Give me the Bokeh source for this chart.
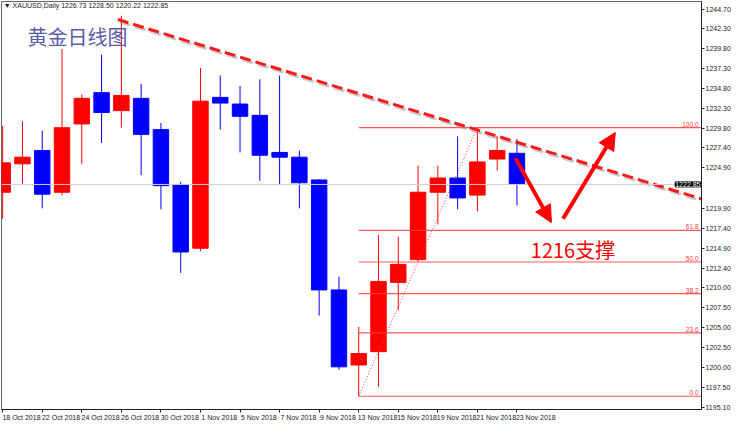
from bokeh.plotting import figure
from bokeh.models import (Range1d, FixedTicker, NumeralTickFormatter, Span, Label,
                          Arrow, NormalHead, ColumnDataSource)
from bokeh.core.properties import value
from bokeh.embed import file_html
from bokeh.resources import INLINE

# ---------------- data ----------------
symbol = "XAUUSD,Daily"
dates = ["18 Oct 2018", "19 Oct 2018", "22 Oct 2018", "23 Oct 2018", "24 Oct 2018",
         "25 Oct 2018", "26 Oct 2018", "29 Oct 2018", "30 Oct 2018", "31 Oct 2018",
         "1 Nov 2018", "2 Nov 2018", "5 Nov 2018", "6 Nov 2018", "7 Nov 2018",
         "8 Nov 2018", "9 Nov 2018", "12 Nov 2018", "13 Nov 2018", "14 Nov 2018",
         "15 Nov 2018", "16 Nov 2018", "19 Nov 2018", "20 Nov 2018", "21 Nov 2018",
         "22 Nov 2018", "23 Nov 2018"]
opens = [1221.88, 1225.42, 1227.08, 1221.88, 1230.39, 1234.29, 1232.05, 1233.58, 1229.68,
         1222.82, 1214.90, 1233.70, 1232.87, 1231.46, 1226.84, 1226.25, 1223.41, 1209.70,
         1200.35, 1202.01, 1210.64, 1213.48, 1221.88, 1223.65, 1221.52, 1226.02, 1226.73]
highs = [1230.15, 1230.75, 1229.56, 1239.73, 1234.06, 1239.02, 1243.87, 1235.36, 1230.51,
         1223.18, 1237.37, 1236.42, 1235.12, 1235.95, 1236.42, 1227.08, 1223.53, 1211.35,
         1205.08, 1216.55, 1216.32, 1225.19, 1225.19, 1228.85, 1229.92, 1228.85, 1228.50]
lows = [1218.57, 1222.94, 1219.87, 1221.52, 1225.42, 1228.03, 1229.92, 1224.01, 1219.75,
        1211.82, 1214.54, 1229.68, 1226.84, 1223.30, 1222.82, 1219.87, 1206.50, 1199.76,
        1196.45, 1197.63, 1207.21, 1213.24, 1217.86, 1219.75, 1219.51, 1224.60, 1220.22]
closes = [1225.54, 1226.25, 1221.64, 1229.92, 1233.58, 1231.81, 1233.94, 1229.09, 1222.70,
          1214.43, 1233.23, 1232.99, 1231.34, 1226.49, 1226.25, 1223.06, 1209.70, 1200.12,
          1201.77, 1210.76, 1212.89, 1221.88, 1223.65, 1221.17, 1225.66, 1227.08, 1222.85]
price_ticks = [1244.70, 1242.30, 1239.80, 1237.30, 1234.80, 1232.30, 1229.80, 1227.40,
               1224.90, 1219.90, 1217.40, 1214.90, 1212.40, 1210.00, 1207.50, 1205.00,
               1202.50, 1200.00, 1197.50, 1195.10]
fib_levels = [0.0, 23.6, 38.2, 50.0, 61.8, 100.0]
fib_from_bar = 18
fib_to_bar = 24
title_text = "黄金日线图"
support_text = "1216支撑"

# trendline / arrows anchors (bar index, price)
trend_start = (5.82, 1243.40)
trend_end = (36.5, 1220.16)
arrow_down = ((25.92, 1226.13), (27.74, 1218.09))
arrow_up = ((28.33, 1218.57), (30.97, 1229.32))

# ---------------- figure ----------------
X0, X1 = -0.06, 35.33
Y0, Y1 = 1194.8, 1245.65
p = figure(width=733, height=423, output_backend="svg", toolbar_location=None,
           x_range=Range1d(X0, X1), y_range=Range1d(Y0, Y1),
           y_axis_location="right", min_border_left=1, min_border_top=1,
           min_border_right=0, min_border_bottom=0)
p.grid.visible = False
p.outline_line_color = "#666666"
p.background_fill_color = "white"
p.border_fill_color = "white"

# axes
p.yaxis.ticker = FixedTicker(ticks=price_ticks)
p.yaxis.formatter = NumeralTickFormatter(format="0.00")
label_shift = 0.95  # date label drawn to the right of its tick, as in MT4
date_idx = list(range(0, len(dates), 2))
p.xaxis.ticker = FixedTicker(ticks=[i + label_shift for i in date_idx], minor_ticks=date_idx)
p.xaxis.major_label_overrides = {i + label_shift: dates[i] for i in date_idx}
for ax in (p.xaxis, p.yaxis):
    ax.major_label_text_font = "Liberation Sans"
    ax.major_label_text_font_size = "7px"
    ax.major_label_text_color = "#222222"
    ax.axis_line_color = "#222222"
    ax.major_tick_line_color = "#222222"
    ax.major_tick_out = 3
    ax.major_tick_in = 0
    ax.minor_tick_line_color = None
    ax.major_label_standoff = 1
p.xaxis.major_tick_line_color = None
p.xaxis.minor_tick_line_color = "#222222"
p.xaxis.minor_tick_out = 3
p.xaxis.minor_tick_in = 0

# current price line
p.add_layout(Span(location=closes[-1], dimension="width", line_color="#cfcfcf", line_width=1))

# candles
colors = ["#ff0000" if c >= o else "#0000ff" for o, c in zip(opens, closes)]
idx = list(range(len(dates)))
src = ColumnDataSource(dict(x=idx, o=opens, h=highs, l=lows, c=closes,
                            top=[max(o, c) for o, c in zip(opens, closes)],
                            bot=[min(o, c) for o, c in zip(opens, closes)],
                            col=colors))
p.segment(x0="x", y0="l", x1="x", y1="h", source=src, line_color="col", line_width=1)
p.vbar(x="x", width=0.78, top="top", bottom="bot", source=src,
       fill_color="col", line_color="col", line_width=1)

# Fibonacci retracement
fib_lo = lows[fib_from_bar]
fib_hi = highs[fib_to_bar]
fib_prices = [fib_lo + (fib_hi - fib_lo) * lv / 100.0 for lv in fib_levels]
p.segment(x0=[fib_from_bar] * len(fib_prices), y0=fib_prices,
          x1=[X1 + 1] * len(fib_prices), y1=fib_prices,
          line_color="#ff3b3b", line_width=1.2, line_alpha=0.85)
p.line([fib_from_bar, fib_to_bar], [fib_lo, fib_hi], line_color="#ff3b3b",
       line_width=1, line_dash="1 2")
p.text(x=[X1] * len(fib_prices), y=fib_prices, text=[f"{lv:.1f}" for lv in fib_levels],
       x_offset=-3, y_offset=-1, text_align="right", text_baseline="bottom",
       text_font=value("Liberation Sans"), text_font_size="6.5px", text_color="#ff3b3b")

# trendline with shadow
p.line([trend_start[0] + 0.1, trend_end[0] + 0.1], [trend_start[1] - 0.3, trend_end[1] - 0.3],
       line_color="#888888", line_alpha=0.45, line_width=3, line_dash="11 5")
p.line([trend_start[0], trend_end[0]], [trend_start[1], trend_end[1]],
       line_color="#ff1a1a", line_width=3, line_dash="11 5")

# arrows
for (s, e) in (arrow_down, arrow_up):
    p.add_layout(Arrow(end=NormalHead(size=17, fill_color="#ff0000", line_color="#ff0000"),
                       x_start=s[0], y_start=s[1], x_end=e[0], y_end=e[1],
                       line_color="#ff0000", line_width=4))

# texts
p.add_layout(Label(x=1.26, y=1241.3, text=title_text, text_baseline="middle",
                   text_font="Noto Sans CJK SC", text_font_size="20px",
                   text_color="#5a5aa8"))
p.add_layout(Label(x=26.7, y=1212.9, text=support_text, text_baseline="bottom",
                   text_font="Noto Sans CJK SC", text_font_size="20px",
                   text_color="#ff0000"))
header = f"▼ {symbol}  {opens[-1]:.2f} {highs[-1]:.2f} {lows[-1]:.2f} {closes[-1]:.2f}"
p.add_layout(Label(x=0.05, y=1245.2, text=header, text_baseline="middle",
                   text_font="Liberation Sans", text_font_size="7px",
                   text_color="#222222"))
# current price tag (kept inside the frame, at its right edge)
p.add_layout(Label(x=X1, y=closes[-1], x_offset=-1, text=f"{closes[-1]:.2f}",
                   text_align="right", text_baseline="middle", text_font="Liberation Sans",
                   text_font_size="7px", text_color="white",
                   background_fill_color="black", border_line_color="black"))

open("out.html", "w").write(file_html(p, INLINE))
